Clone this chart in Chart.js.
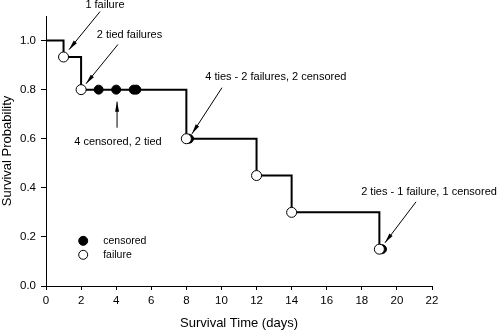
<!DOCTYPE html>
<html>
<head>
<meta charset="utf-8">
<script src="https://cdn.jsdelivr.net/npm/chart.js@4.4.1/dist/chart.umd.min.js"></script>
<style>
  html, body { margin: 0; padding: 0; background: #fff; }
  canvas { display: block; }
</style>
</head>
<body>
<canvas id="km" width="500" height="331"></canvas>
<script>
// Kaplan-Meier estimate
const stepTimes = [0, 1, 2, 8, 12, 14, 19];
const stepSurv = [1.0, 0.933, 0.8, 0.6, 0.45, 0.3, 0.15];

const failTimes = [1, 2, 8, 12, 14, 19];
const failSurv = [0.933, 0.8, 0.6, 0.45, 0.3, 0.15];

const censTimes = [3, 4, 5, 5, 8, 19];
const censSurv = [0.8, 0.8, 0.8, 0.8, 0.6, 0.15];

const xTicks = [0, 2, 4, 6, 8, 10, 12, 14, 16, 18, 20, 22];
const yTicks = [0.0, 0.2, 0.4, 0.6, 0.8, 1.0];

// callouts: label position, arrow tail, arrow tip (days, probability)
const notes = [
  { text: '1 failure', at: [3.36, 1.143], from: [3.08, 1.118], to: [1.31, 0.963] },
  { text: '2 tied failures', at: [4.76, 1.024], from: [4.10, 0.984], to: [2.28, 0.824] },
  { text: '4 censored, 2 tied', at: [4.10, 0.588], from: [4.05, 0.645], to: [4.05, 0.751] },
  { text: '4 ties - 2 failures, 2 censored', at: [13.1, 0.853], from: [10.03, 0.808], to: [8.32, 0.620] },
  { text: '2 ties - 1 failure, 1 censored', at: [21.83, 0.384], from: [21.09, 0.343], to: [19.32, 0.176] }
];

const TIE_SHIFT = 0.15; // nudge tied points so both symbols show

function pts(xs, ys) { return xs.map((x, i) => ({ x: x, y: ys[i] })); }

// censored points sharing a time with an earlier event get shifted right
const censPts = censTimes.map((t, i) => {
  const tied = failTimes.includes(t) || censTimes.indexOf(t) < i;
  return { x: tied ? t + TIE_SHIFT : t, y: censSurv[i] };
});

const FONT = 'Liberation Sans, Arial, sans-serif';

const callouts = {
  id: 'callouts',
  afterDatasetsDraw(chart) {
    const { ctx, scales: { x, y } } = chart;
    ctx.save();
    ctx.fillStyle = '#000';
    ctx.strokeStyle = '#000';
    ctx.font = '11px ' + FONT;
    ctx.textAlign = 'center';
    ctx.textBaseline = 'middle';
    notes.forEach(n => {
      ctx.fillText(n.text, x.getPixelForValue(n.at[0]), y.getPixelForValue(n.at[1]));
      const x0 = x.getPixelForValue(n.from[0]), y0 = y.getPixelForValue(n.from[1]);
      const x1 = x.getPixelForValue(n.to[0]), y1 = y.getPixelForValue(n.to[1]);
      ctx.lineWidth = 1;
      ctx.beginPath();
      ctx.moveTo(x0, y0);
      ctx.lineTo(x1, y1);
      ctx.stroke();
      const a = Math.atan2(y1 - y0, x1 - x0);
      const len = 10, hw = 2;
      ctx.beginPath();
      ctx.moveTo(x1, y1);
      ctx.lineTo(x1 - len * Math.cos(a) + hw * Math.sin(a), y1 - len * Math.sin(a) - hw * Math.cos(a));
      ctx.lineTo(x1 - len * Math.cos(a) - hw * Math.sin(a), y1 - len * Math.sin(a) + hw * Math.cos(a));
      ctx.closePath();
      ctx.fill();
    });

    // legend
    const lx = x.getPixelForValue(2.12);
    const rows = [
      { label: 'censored', y: 0.184, filled: true },
      { label: 'failure', y: 0.127, filled: false }
    ];
    ctx.textAlign = 'left';
    ctx.font = '10.5px ' + FONT;
    rows.forEach(r => {
      const py = y.getPixelForValue(r.y);
      ctx.beginPath();
      ctx.arc(lx, py, 4.5, 0, Math.PI * 2);
      ctx.fillStyle = r.filled ? '#000' : '#fff';
      ctx.fill();
      ctx.lineWidth = 1;
      ctx.stroke();
      ctx.fillStyle = '#000';
      ctx.fillText(r.label, lx + 20, py);
    });
    ctx.restore();
  }
};

new Chart(document.getElementById('km'), {
  type: 'scatter',
  data: {
    datasets: [
      {
        label: 'failure',
        data: pts(failTimes, failSurv),
        pointStyle: 'circle',
        pointRadius: 5,
        pointBackgroundColor: '#fff',
        pointBorderColor: '#000',
        pointBorderWidth: 1
      },
      {
        label: 'censored',
        data: censPts,
        pointStyle: 'circle',
        pointRadius: 4.5,
        pointBackgroundColor: '#000',
        pointBorderColor: '#000',
        pointBorderWidth: 1
      },
      {
        label: 'survival',
        data: pts(stepTimes, stepSurv),
        showLine: true,
        stepped: 'before',
        borderColor: '#000',
        borderWidth: 2,
        pointRadius: 0
      }
    ]
  },
  options: {
    responsive: false,
    animation: false,
    devicePixelRatio: 1,
    layout: { padding: { top: 16, right: 68, left: 0, bottom: 0 } },
    plugins: { legend: { display: false }, tooltip: { enabled: false } },
    scales: {
      x: {
        type: 'linear',
        min: 0,
        max: 22,
        afterBuildTicks: s => { s.ticks = xTicks.map(v => ({ value: v })); },
        afterFit: s => { s.height = 45; },
        grid: { drawOnChartArea: false, drawTicks: true, tickLength: 4, tickColor: '#000' },
        border: { display: true, color: '#000', width: 1 },
        ticks: { color: '#000', padding: 4, font: { family: FONT, size: 11.5 } },
        title: {
          display: true,
          text: 'Survival Time (days)',
          color: '#000',
          padding: 0,
          font: { family: FONT, size: 13 }
        }
      },
      y: {
        type: 'linear',
        min: 0,
        max: 1.1,
        afterBuildTicks: s => { s.ticks = yTicks.map(v => ({ value: v })); },
        afterFit: s => { s.width = 46; },
        grid: { drawOnChartArea: false, drawTicks: true, tickLength: 5, tickColor: '#000' },
        border: { display: true, color: '#000', width: 1 },
        ticks: {
          color: '#000',
          padding: 5,
          font: { family: FONT, size: 11.5 },
          callback: v => v.toFixed(1)
        },
        title: {
          display: true,
          text: 'Survival Probability',
          color: '#000',
          padding: 0,
          font: { family: FONT, size: 13 }
        }
      }
    }
  },
  plugins: [callouts]
});
</script>
</body>
</html>
